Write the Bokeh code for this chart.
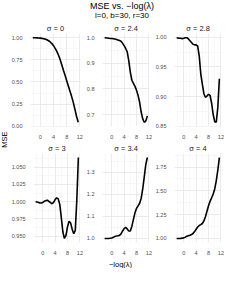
import math
from bokeh.plotting import figure
from bokeh.models import Plot, Range1d, Label, FixedTicker, PrintfTickFormatter, ColumnDataSource
from bokeh.layouts import column, row
from bokeh.embed import file_html
from bokeh.resources import INLINE

# ---------------- data ----------------
TITLE = "MSE vs. \u2212log(\u03bb)"
SUBTITLE = "l=0, b=30, r=30"
X_LABEL = "\u2212log(\u03bb)"
Y_LABEL = "MSE"
SIGMAS = ["0", "2.4", "2.8", "3", "3.4", "4"]

NEG_LOG_LAMBDA = [-2.3, -1.5, -1.0, -0.5, 0.0, 0.5, 1.0, 1.5, 2.0, 2.5, 3.0, 3.5, 4.0, 4.5,
                  5.0, 5.5, 6.0, 6.5, 7.0, 7.5, 8.0, 8.5, 9.0, 9.5, 10.0, 10.5, 11.0, 11.5]

MSE_S0 = [1.000, 0.999, 0.998, 0.997, 0.995, 0.993, 0.989, 0.984, 0.977, 0.966, 0.952, 0.934, 0.910, 0.880,
          0.845, 0.805, 0.755, 0.695, 0.632, 0.575, 0.515, 0.455, 0.395, 0.335, 0.270, 0.190, 0.110, 0.045]
MSE_S24 = [1.000, 0.999, 0.998, 0.997, 0.997, 0.996, 0.995, 0.993, 0.991, 0.989, 0.986, 0.978, 0.969, 0.958,
           0.945, 0.910, 0.865, 0.834, 0.822, 0.810, 0.795, 0.775, 0.748, 0.710, 0.683, 0.670, 0.675, 0.695]
MSE_S28 = [0.999, 0.998, 0.998, 0.9975, 0.998, 0.999, 0.999, 0.997, 0.994, 0.991, 0.988, 0.987, 0.987, 0.985,
           0.968, 0.938, 0.921, 0.905, 0.899, 0.901, 0.904, 0.902, 0.889, 0.870, 0.858, 0.857, 0.882, 0.930]
MSE_S3 = [1.000, 0.999, 0.998, 0.998, 0.9988, 1.0005, 1.0015, 1.002, 1.0005, 0.9985, 0.997, 0.999, 1.003, 1.0055,
          1.004, 0.996, 0.9765, 0.956, 0.9466, 0.951, 0.9637, 0.9715, 0.969, 0.960, 0.9535, 0.958, 1.002, 1.064]
MSE_S34 = [0.998, 0.998, 0.998, 0.999, 1.000, 1.003, 1.007, 1.009, 1.010, 1.012, 1.019, 1.032, 1.043, 1.049,
           1.041, 1.032, 1.032, 1.054, 1.085, 1.115, 1.135, 1.146, 1.158, 1.180, 1.223, 1.278, 1.335, 1.366]
MSE_S4 = [1.000, 1.000, 1.001, 1.003, 1.006, 1.014, 1.023, 1.029, 1.034, 1.041, 1.052, 1.072, 1.096, 1.120,
          1.136, 1.145, 1.157, 1.184, 1.228, 1.285, 1.344, 1.390, 1.428, 1.466, 1.520, 1.605, 1.718, 1.850]
MSE = [MSE_S0, MSE_S24, MSE_S28, MSE_S3, MSE_S34, MSE_S4]

X_TICKS = [0, 4, 8, 12]
X_MINOR = [-2, 2, 6, 10]
Y_TICKS = [
    [0.0, 0.25, 0.5, 0.75, 1.0],
    [0.7, 0.8, 0.9, 1.0],
    [0.85, 0.90, 0.95, 1.00],
    [0.950, 0.975, 1.000, 1.025, 1.050],
    [1.0, 1.1, 1.2, 1.3],
    [1.00, 1.25, 1.50, 1.75],
]
Y_MINOR = [
    [0.125, 0.375, 0.625, 0.875],
    [0.65, 0.75, 0.85, 0.95],
    [0.875, 0.925, 0.975],
    [0.9625, 0.9875, 1.0125, 1.0375, 1.0625],
    [1.05, 1.15, 1.25, 1.35],
    [1.125, 1.375, 1.625, 1.875],
]
Y_FORMATS = ["%.2f", "%.1f", "%.2f", "%.3f", "%.1f", "%.2f"]

# ---------------- style / layout ----------------
FONT = "Liberation Sans"
FRAME_W = 56
FRAME_H = 98
LEFTS = [16, 10, 13]
RIGHTS = [3, 3, 3]
TOPS = [13, 9]
BOTTOMS = [10, 9]
HEADER_H = 20
XLAB_H = 11


def make_panel(i):
    c = i % 3
    r = i // 3
    w = LEFTS[c] + FRAME_W + RIGHTS[c]
    h = TOPS[r] + FRAME_H + BOTTOMS[r]
    p = figure(width=w, height=h, output_backend="svg", toolbar_location=None,
               min_border_left=LEFTS[c], min_border_right=RIGHTS[c],
               min_border_top=TOPS[r], min_border_bottom=BOTTOMS[r],
               title="\u03c3 = " + SIGMAS[i])
    src = ColumnDataSource(dict(x=NEG_LOG_LAMBDA, y=MSE[i]))
    p.line(x="x", y="y", source=src, line_color="black", line_width=1.6)
    p.title.align = "center"
    p.title.text_font = FONT
    p.title.text_font_size = "7.5px"
    p.title.text_font_style = "normal"
    p.title.text_color = "#1A1A1A"
    p.title.standoff = 1
    p.title.offset = 0
    p.xaxis.ticker = FixedTicker(ticks=X_TICKS, minor_ticks=X_MINOR)
    p.yaxis.ticker = FixedTicker(ticks=Y_TICKS[i], minor_ticks=Y_MINOR[i])
    p.yaxis.formatter = PrintfTickFormatter(format=Y_FORMATS[i])
    for ax in (p.xaxis, p.yaxis):
        ax.axis_line_color = None
        ax.major_tick_line_color = None
        ax.minor_tick_line_color = None
        ax.major_label_text_font = FONT
        ax.major_label_text_font_size = "5.5px"
        ax.major_label_text_color = "#4D4D4D"
        ax.major_label_standoff = 2
    p.grid.grid_line_color = "#E6E6E6"
    p.grid.grid_line_width = 0.8
    p.grid.minor_grid_line_color = "#F0F0F0"
    p.grid.minor_grid_line_width = 0.5
    p.outline_line_color = None
    p.background_fill_color = "white"
    p.border_fill_color = "white"
    return p


def text_plot(w, h):
    return Plot(width=w, height=h, x_range=Range1d(0, w), y_range=Range1d(0, h),
                min_border=0, outline_line_color=None, toolbar_location=None,
                output_backend="svg")


panels = [make_panel(i) for i in range(6)]
grid = column(row(*panels[:3]), row(*panels[3:]))
grid_h = sum(TOPS) + sum(BOTTOMS) + 2 * FRAME_H
grid_w = sum(LEFTS) + sum(RIGHTS) + 3 * FRAME_W

TOTAL_W = 224
header = text_plot(TOTAL_W, HEADER_H)
header.add_layout(Label(x=121.5, y=15.0, text=TITLE, text_font=FONT, text_font_size="9px",
                        text_align="center", text_baseline="middle", text_color="black"))
header.add_layout(Label(x=121.5, y=5.5, text=SUBTITLE, text_font=FONT, text_font_size="8px",
                        text_align="center", text_baseline="middle", text_color="black"))

ylab = text_plot(TOTAL_W - grid_w, grid_h)
ylab.add_layout(Label(x=4, y=grid_h - 119, text=Y_LABEL, text_font=FONT, text_font_size="7.5px",
                      angle=math.pi / 2, text_align="center", text_baseline="middle",
                      text_color="black"))

xlab = text_plot(TOTAL_W, XLAB_H)
xlab.add_layout(Label(x=120, y=5.5, text=X_LABEL, text_font=FONT, text_font_size="7.5px",
                      text_align="center", text_baseline="middle", text_color="black"))

layout = column(header, row(ylab, grid), xlab)

open("out.html", "w").write(file_html(layout, INLINE))
